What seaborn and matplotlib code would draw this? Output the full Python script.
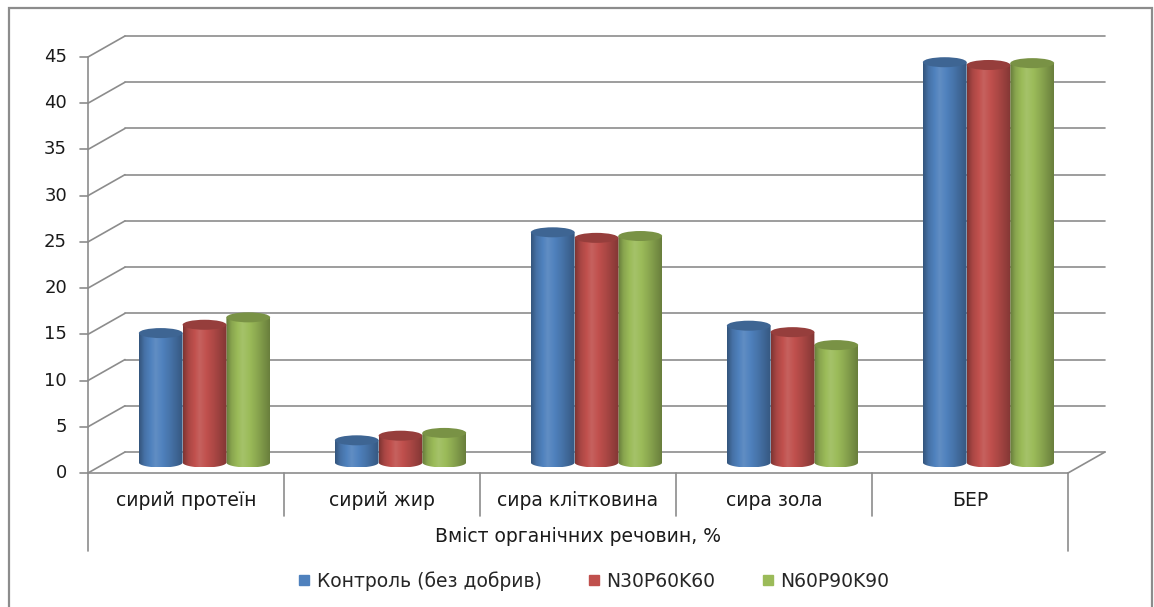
import numpy as np
import pandas as pd
import matplotlib
matplotlib.use("Agg")
import matplotlib.pyplot as plt
import seaborn as sns
from matplotlib.patches import Ellipse, PathPatch, Rectangle
from matplotlib.path import Path
from matplotlib.lines import Line2D
import matplotlib.colors as mcolors

# --- data -------------------------------------------------------------
categories = ["сирий протеїн", "сирий жир", "сира клітковина", "сира зола", "БЕР"]
treatments = ["Контроль (без добрив)", "N30P60K60", "N60P90K90"]
control = [14.0, 2.4, 24.9, 14.8, 43.3]
n30p60k60 = [14.9, 2.9, 24.3, 14.1, 43.0]
n60p90k90 = [15.7, 3.2, 24.5, 12.7, 43.2]
y_ticks = [0, 5, 10, 15, 20, 25, 30, 35, 40, 45]
axis_title = "Вміст органічних речовин, %"
colors = ["#4F81BD", "#C0504D", "#9BBB59"]

df = pd.DataFrame({
    "category": np.repeat(categories, 3),
    "treatment": treatments * len(categories),
    "value": np.ravel(np.column_stack([control, n30p60k60, n60p90k90])),
})

sns.set_style("white")
plt.rcParams["font.family"] = ["DejaVu Sans"]

W, H, DPI = 1154, 607, 100
fig = plt.figure(figsize=(W / DPI, H / DPI), dpi=DPI)

# axes = the mid-depth plane of the pseudo-3D box
left_px, right_px = 106.5, 1086.5
zero_px, top_px = 462.5, 46.5
ax = fig.add_axes([left_px / W, 1 - zero_px / H,
                   (right_px - left_px) / W, (zero_px - top_px) / H])

sns.barplot(data=df, x="category", y="value", hue="treatment",
            palette=colors, saturation=1, width=0.67, gap=0,
            legend=False, ax=ax, errorbar=None)

ax.set_xlim(-0.5, len(categories) - 0.5)
ax.set_ylim(0, 45)
ax.axis("off")

px_x = (right_px - left_px) / len(categories)
px_y = (zero_px - top_px) / 45.0
DX = 18.5 / px_x       # half depth, in data units
DY = 10.5 / px_y

grid_kw = dict(color="#8C8C8C", lw=1.2, clip_on=False, zorder=1)
x_l, x_r = -0.5, len(categories) - 0.5
txt_col = "#1a1a1a"
fs = 13

# back wall gridlines and side-wall diagonals
for v in y_ticks:
    ax.plot([x_l + DX, x_r + DX], [v + DY, v + DY], **grid_kw)
    ax.plot([x_l - DX, x_l + DX], [v - DY, v + DY], **grid_kw)
    # tick mark on the front axis
    ax.plot([x_l - DX - 8 / px_x, x_l - DX], [v - DY, v - DY], **grid_kw)
    ax.annotate(str(v), xy=(x_l - DX, v - DY), xytext=(-21, 0),
                textcoords="offset pixels", ha="right", va="center",
                fontsize=fs, color=txt_col, annotation_clip=False)

# floor front edge and right diagonal
ax.plot([x_l - DX, x_r - DX], [-DY, -DY], **grid_kw)
ax.plot([x_r - DX, x_r + DX], [-DY, DY], **grid_kw)
# front vertical axis
ax.plot([x_l - DX, x_l - DX], [45 - DY, -DY - 78 / px_y], **grid_kw)
ax.plot([x_r - DX, x_r - DX], [-DY, -DY - 78 / px_y], **grid_kw)
# category separators
for k in range(1, len(categories)):
    xs = x_l + k - DX
    ax.plot([xs, xs], [-DY, -DY - 43 / px_y], **grid_kw)

# category labels and axis title
for i, c in enumerate(categories):
    ax.text(i - DX, -DY - 27 / px_y, c, ha="center", va="center",
            fontsize=13.5, color=txt_col, clip_on=False)
ax.text((x_l + x_r) / 2 - DX, -DY - 64 / px_y, axis_title, ha="center",
        va="center", fontsize=13.5, color=txt_col, clip_on=False)


def shade(rgb, f):
    rgb = np.asarray(rgb[:3])
    if f < 1:
        return rgb * f
    return rgb + (1 - rgb) * (f - 1)


# turn flat bars into shaded cylinders
ell_h = 10.0 / px_y
prof_t = np.linspace(0, 1, 64)
prof_f = np.interp(prof_t, [0, 0.12, 0.38, 0.7, 1.0], [0.66, 0.88, 1.1, 0.9, 0.68])
bars = [p for p in ax.patches if isinstance(p, Rectangle)]
for idx, p in enumerate(bars):
    x0, w, h = p.get_x(), p.get_width(), p.get_height()
    base = mcolors.to_rgb(p.get_facecolor())
    grad = np.array([[shade(base, f) for f in prof_f]])
    theta = np.linspace(np.pi, 2 * np.pi, 40)
    arc_x = x0 + w / 2 + (w / 2) * np.cos(theta)
    arc_y = (ell_h / 2) * np.sin(theta)
    verts = [(x0, h)] + list(zip(arc_x, arc_y)) + [(x0 + w, h), (x0, h)]
    body = PathPatch(Path(verts, closed=True), transform=ax.transData,
                     facecolor="none", edgecolor="none")
    zo = 3 + (idx % 3) * 0.01
    im = ax.imshow(grad, extent=(x0, x0 + w, -ell_h / 2, h), aspect="auto",
                   interpolation="bilinear", zorder=zo)
    im.set_clip_path(body)
    im.set_clip_box(fig.bbox)
    top = Ellipse((x0 + w / 2, h), w, ell_h, facecolor=shade(base, 0.78),
                  edgecolor="none", zorder=zo + 0.001, clip_on=False)
    ax.add_patch(top)
    p.set_visible(False)

ax.set_xlim(-0.5, len(categories) - 0.5)
ax.set_ylim(0, 45)

# legend
handles = [Line2D([], [], marker="s", linestyle="none", markersize=6.5,
                  markerfacecolor=c, markeredgecolor=c) for c in colors]
fig.legend(handles, treatments, loc="center", ncol=3, frameon=False,
           bbox_to_anchor=(592 / W, 1 - 581 / H), fontsize=13.5,
           handletextpad=0.15, columnspacing=2.3, handlelength=1.0)

# outer chart border
fig.patches.append(Rectangle((9 / W, -0.05), (1152 - 9) / W, 1.05 - 8 / H,
                             transform=fig.transFigure, fill=False,
                             edgecolor="#8C8C8C", lw=1.6))

fig.savefig("out.png", dpi=DPI)
